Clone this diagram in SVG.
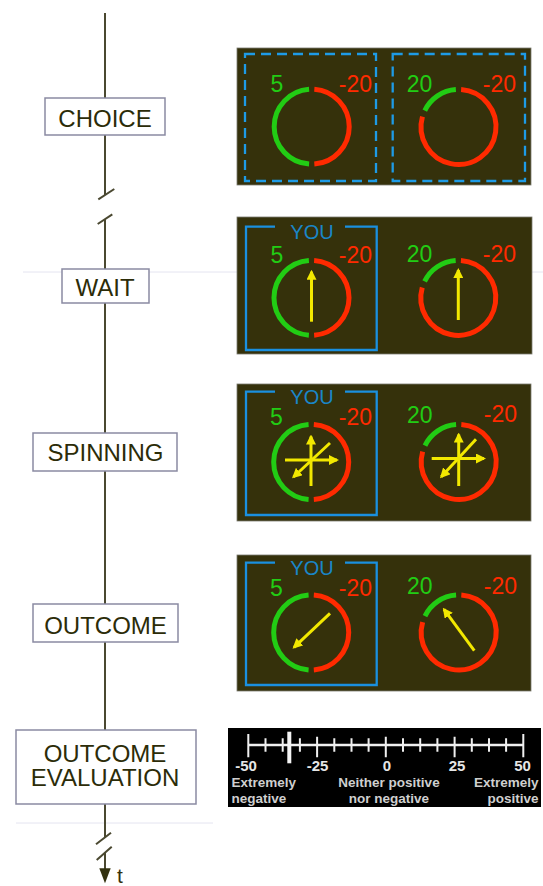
<svg xmlns="http://www.w3.org/2000/svg" xmlns:xlink="http://www.w3.org/1999/xlink" width="543" height="886" viewBox="0 0 543 886">
<style>
.tl{stroke:#4a4830;stroke-width:2;fill:none}
.box{fill:#ffffff;stroke:#8a8aa2;stroke-width:1.5}
.lbl{font-family:"Liberation Sans",Arial,sans-serif;font-size:24px;fill:#2c2c08;text-anchor:middle}
.panel{fill:#35310b;stroke:#7a7a70;stroke-width:0.8}
.dash{fill:none;stroke:#1e9be6;stroke-width:2.3;stroke-dasharray:10 6}
.you{fill:none;stroke:#1a90e0;stroke-width:2.3}
.yout{font-family:"Liberation Sans",Arial,sans-serif;font-size:20px;fill:#1a86c8;text-anchor:middle}
.g{fill:none;stroke:#22cc14;stroke-width:5}
.r{fill:none;stroke:#ff2a00;stroke-width:5}
.gt{font-family:"Liberation Sans",Arial,sans-serif;font-size:23px;fill:#22cc14}
.rt{font-family:"Liberation Sans",Arial,sans-serif;font-size:23px;fill:#ff2a00;text-anchor:end}
.arr{stroke:#f2e800;stroke-width:3;fill:none;marker-end:url(#ah)}
.sc{stroke:#f0f0f0;stroke-width:2;fill:none}
.snum{font-family:"Liberation Sans",Arial,sans-serif;font-size:15px;font-weight:bold;fill:#e6e6e6}
.stx{font-family:"Liberation Sans",Arial,sans-serif;font-size:13.5px;font-weight:bold;fill:#cfcfcf}
.faint{stroke:#e4e4f0;stroke-width:1}
</style>
<defs>
<marker id="ah" markerUnits="userSpaceOnUse" viewBox="0 0 10 10" refX="8" refY="5" markerWidth="10" markerHeight="10" orient="auto">
<path d="M0,0 L10,5 L0,10 z" fill="#f2e800"/>
</marker>
<g id="wheelA">
<path class="g" d="M-2.62,37.41 A37.5,37.5 0 0 1 -2.62,-37.41"/>
<path class="r" d="M2.62,-37.41 A37.5,37.5 0 0 1 2.62,37.41"/>
</g>
<g id="wheelB">
<path class="g" d="M-33.71,-16.44 A37.5,37.5 0 0 1 -2.62,-37.41"/>
<path class="r" d="M2.62,-37.41 A37.5,37.5 0 1 1 -36.05,-10.34"/>
</g>
</defs>
<rect width="543" height="886" fill="#ffffff"/>
<line class="faint" x1="23" y1="272" x2="237" y2="272"/>
<line class="faint" x1="532" y1="272" x2="543" y2="272"/>
<line class="faint" x1="16" y1="823" x2="213" y2="823"/>

<g id="connectors">
<line class="tl" x1="105" y1="13" x2="105" y2="195"/>
<line class="tl" x1="98.3" y1="199.3" x2="114.3" y2="189"/>
<line class="tl" x1="97.7" y1="224" x2="112.3" y2="214.3"/>
<line class="tl" x1="105" y1="219" x2="105" y2="837"/>
<line class="tl" x1="96" y1="844.3" x2="111" y2="832.7"/>
<line class="tl" x1="96.7" y1="860" x2="111.7" y2="846.7"/>
<line class="tl" x1="105" y1="852.5" x2="105" y2="870"/>
<path d="M99.3,868.3 L110.7,868.3 L105,883.3 z" fill="#33320f"/>
<text x="117" y="883" style="font-family:'Liberation Sans',Arial,sans-serif;font-size:21px;fill:#33320f">t</text>
</g>

<g id="choice"><rect class="box" x="45" y="98" width="120" height="37"/><text class="lbl" x="105" y="127">CHOICE</text></g>
<g id="wait"><rect class="box" x="62" y="269" width="87" height="34"/><text class="lbl" x="105" y="296">WAIT</text></g>
<g id="spinning"><rect class="box" x="33" y="433" width="144" height="38"/><text class="lbl" x="105.5" y="461">SPINNING</text></g>
<g id="outcome"><rect class="box" x="33" y="604" width="145" height="38"/><text class="lbl" x="105.5" y="634">OUTCOME</text></g>
<g id="evaluation"><rect class="box" x="16" y="730" width="180" height="74"/><text class="lbl"><tspan x="105" y="762">OUTCOME</tspan><tspan x="105" y="786">EVALUATION</tspan></text></g>

<g id="panel-choice">
<rect class="panel" x="237" y="48" width="294" height="137"/>
<rect class="dash" x="245" y="54" width="131" height="127"/>
<rect class="dash" x="392.7" y="54" width="132.3" height="127"/>
<use xlink:href="#wheelA" x="311.7" y="126.7"/>
<use xlink:href="#wheelB" x="458.5" y="127"/>
<text class="gt" x="270.5" y="92">5</text><text class="rt" x="372" y="92">-20</text>
<text class="gt" x="406.7" y="92">20</text><text class="rt" x="516" y="92">-20</text>
</g>

<g id="panel-wait">
<rect class="panel" x="237" y="217" width="295" height="137"/>
<path class="you" d="M275,226.7 H246 V350 H376.7 V226.7 H345"/>
<text class="yout" x="312" y="238.5">YOU</text>
<use xlink:href="#wheelA" x="311.5" y="297.8"/>
<use xlink:href="#wheelB" x="458.3" y="297.8"/>
<text class="gt" x="270.5" y="263">5</text><text class="rt" x="372" y="263">-20</text>
<text class="gt" x="406.7" y="262">20</text><text class="rt" x="516" y="262">-20</text>
<line class="arr" x1="311.5" y1="321.7" x2="311.5" y2="271.7"/>
<line class="arr" x1="458.3" y1="320" x2="458.3" y2="270"/>
</g>

<g id="panel-spinning">
<rect class="panel" x="237" y="384" width="294" height="137"/>
<path class="you" d="M275,391.7 H246 V515 H376.7 V391.7 H345"/>
<text class="yout" x="312" y="404">YOU</text>
<use xlink:href="#wheelA" x="311.2" y="462"/>
<use xlink:href="#wheelB" x="458.7" y="462"/>
<text class="gt" x="270" y="425">5</text><text class="rt" x="372" y="425">-20</text>
<text class="gt" x="407" y="423">20</text><text class="rt" x="517" y="422">-20</text>
<line class="arr" x1="311" y1="486" x2="311" y2="436.5"/>
<line class="arr" x1="285" y1="460" x2="337" y2="460"/>
<line class="arr" x1="330" y1="443" x2="293.5" y2="477"/>
<line class="arr" x1="458.7" y1="486" x2="458.7" y2="434.5"/>
<line class="arr" x1="431.7" y1="458.5" x2="484" y2="458.5"/>
<line class="arr" x1="476" y1="439.3" x2="441.3" y2="476.7"/>
</g>

<g id="panel-outcome">
<rect class="panel" x="237" y="555" width="294" height="136"/>
<path class="you" d="M275,562.7 H246 V685 H376.7 V562.7 H345"/>
<text class="yout" x="312" y="575">YOU</text>
<use xlink:href="#wheelA" x="311.2" y="632.5"/>
<use xlink:href="#wheelB" x="458.7" y="632.5"/>
<text class="gt" x="270" y="596">5</text><text class="rt" x="372" y="596">-20</text>
<text class="gt" x="407" y="594">20</text><text class="rt" x="517" y="594">-20</text>
<line class="arr" x1="330" y1="613.3" x2="294" y2="647.3"/>
<line class="arr" x1="474.3" y1="650.7" x2="444" y2="609.3"/>
</g>

<g id="panel-scale">
<rect x="228" y="728" width="313" height="79" fill="#000000"/>
<line class="sc" x1="248.3" y1="745" x2="523.3" y2="745" style="stroke-width:2.5"/>
<path class="sc" d="M248.3,734 V757.3 M523.3,734 V757.3 M317.1,736.7 V757.3 M385.8,736.7 V757.3 M454.6,736.7 V757.3 M265.5,738.3 V751.7 M282.7,738.3 V751.7 M299.9,738.3 V751.7 M334.3,738.3 V751.7 M351.5,738.3 V751.7 M368.6,738.3 V751.7 M403,738.3 V751.7 M420.2,738.3 V751.7 M437.4,738.3 V751.7 M471.8,738.3 V751.7 M489,738.3 V751.7 M506.1,738.3 V751.7"/>
<line x1="289.3" y1="731.7" x2="289.3" y2="763.3" stroke="#f4f4f4" stroke-width="4"/>
<text class="snum" x="246" y="771" text-anchor="middle">-50</text>
<text class="snum" x="317.5" y="771" text-anchor="middle">-25</text>
<text class="snum" x="387" y="771" text-anchor="middle">0</text>
<text class="snum" x="457" y="771" text-anchor="middle">25</text>
<text class="snum" x="522.5" y="771" text-anchor="middle">50</text>
<text class="stx" x="231.5" y="786.5">Extremely</text>
<text class="stx" x="231.5" y="803">negative</text>
<text class="stx" x="389" y="786.5" text-anchor="middle">Neither positive</text>
<text class="stx" x="389" y="803" text-anchor="middle">nor negative</text>
<text class="stx" x="538.5" y="786.5" text-anchor="end">Extremely</text>
<text class="stx" x="538.5" y="803" text-anchor="end">positive</text>
</g>
</svg>
